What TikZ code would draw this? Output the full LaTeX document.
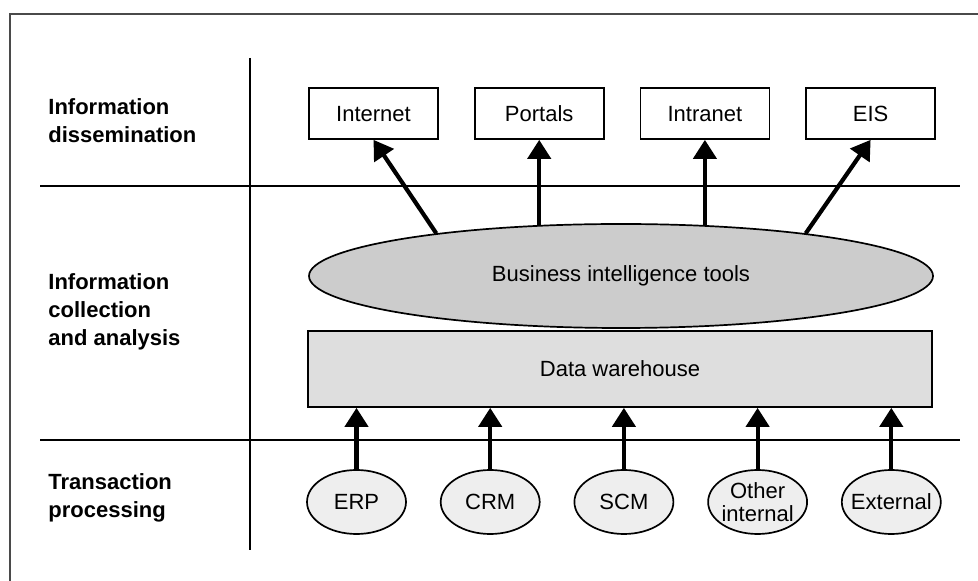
\documentclass[tikz,border=0pt]{standalone}
\usepackage{fontspec}
\setmainfont{Liberation Sans}
\usepackage{xcolor}
\usepackage{tikz}
\definecolor{framegray}{HTML}{4A4A4A}
\definecolor{bigoval}{HTML}{CCCCCC}
\definecolor{dwfill}{HTML}{DEDEDE}
\definecolor{srcfill}{HTML}{EEEEEE}
\tikzstyle{outlet} = [rectangle, draw, line width=0.85pt,
    minimum width=64.5pt, minimum height=25.5pt, inner sep=0pt,
    text height=8pt, text depth=0pt]
\tikzstyle{bitool} = [ellipse, draw, line width=0.85pt, fill=bigoval,
    minimum width=312pt, minimum height=52pt, inner sep=0pt]
\tikzstyle{store} = [rectangle, draw, line width=0.85pt, fill=dwfill,
    minimum width=312pt, minimum height=38pt, inner sep=0pt]
\tikzstyle{srcoval} = [ellipse, draw, line width=0.85pt, fill=srcfill,
    minimum width=49.5pt, minimum height=32pt, inner sep=0pt]
\tikzstyle{srctext} = [align=center, inner sep=0pt, font=\fontsize{11}{11.5}\selectfont]
\tikzstyle{tier} = [font=\fontsize{11}{14}\selectfont\bfseries, align=left, anchor=west, inner sep=0pt]
\tikzstyle{feed} = [-{Triangle[width=11.5pt,length=9.5pt]}, line width=2.1pt]
\tikzstyle{divider} = [line width=0.8pt]
\usetikzlibrary{arrows.meta}
\usetikzlibrary{positioning}
\usetikzlibrary{shapes.geometric}

\begin{document}
\begin{tikzpicture}[x=0.5pt, y=-0.5pt, font=\fontsize{11}{14}\selectfont]
    \useasboundingbox (0,0) rectangle (978,581);

    % outer frame and grid
    \draw[line width=0.7pt, framegray] (10,581) -- (10,14) -- (978,14);
    \draw[divider] (250,58) -- (250,550);
    \draw[divider] (40,186) -- (960,186);
    \draw[divider] (40,440) -- (960,440);

    \node[tier] (dissem) at (48,121) {Information\\dissemination};
    \node[tier] (collect) at (48,311.5) {Information\\collection\\and analysis};
    \node[tier] (trans) at (48,497.5) {Transaction\\processing};

    % dissemination channels
    \node[outlet] (internet) at (373.5,113.5) {Internet};
    \node[outlet, right=17.5pt of internet] (portals) {Portals};
    \node[outlet, right=17.5pt of portals] (intranet) {Intranet};
    \node[outlet, right=17.5pt of intranet] (eis) {EIS};

    \node[bitool] (bi) at (621,276) {Business intelligence tools};
    \node[store] (dw) at (620,369) {Data warehouse};

    \draw[feed] (bi.167) -- (internet.south);
    \draw[feed] (bi.149 -| portals.south) -- (portals.south);
    \draw[feed] (bi.31 -| intranet.south) -- (intranet.south);
    \draw[feed] (bi.13) -- (eis.south);

    % transaction sources
    \node[srcoval, label={[srctext]center:ERP}] (erp) at (356.5,502) {};
    \node[srcoval, right=16.5pt of erp, label={[srctext]center:CRM}] (crm) {};
    \node[srcoval, right=16.5pt of crm, label={[srctext]center:SCM}] (scm) {};
    \node[srcoval, right=16.5pt of scm, label={[srctext]center:Other\\internal}] (other) {};
    \node[srcoval, right=16.5pt of other, label={[srctext]center:External}] (ext) {};

    \foreach \s in {erp,crm,scm,other,ext}
        \draw[feed] (\s.north) -- (\s.north |- dw.south);
\end{tikzpicture}
\end{document}
